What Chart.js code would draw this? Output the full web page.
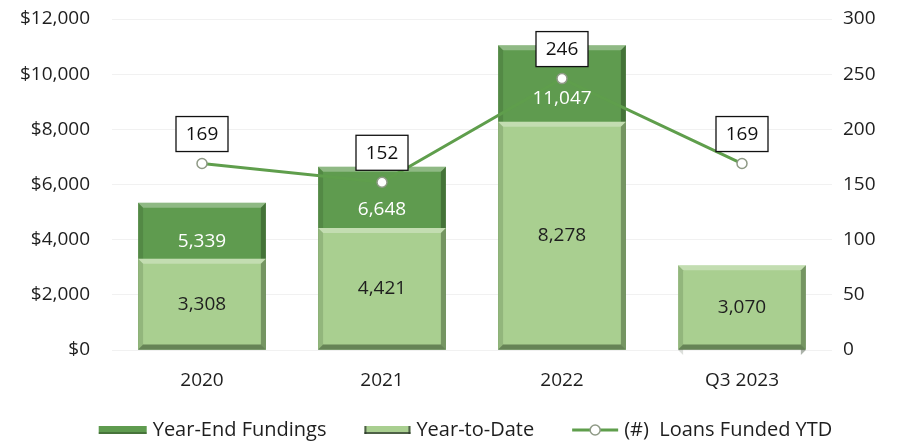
<!DOCTYPE html>
<html>
<head>
<meta charset="utf-8">
<script src="https://cdn.jsdelivr.net/npm/chart.js@4"></script>
<style>
  html, body { margin: 0; padding: 0; background: #fff; }
  #wrap { width: 901px; height: 443px; }
</style>
</head>
<body>
<div id="wrap"><canvas id="myChart"></canvas></div>
<script>
const periods = ['2020', '2021', '2022', 'Q3 2023'];
const yearEndFundings = [5339, 6648, 11047, null];
const yearToDate = [3308, 4421, 8278, 3070];
const loansFunded = [169, 152, 246, 169];
const seriesNames = ['Year-End Fundings', 'Year-to-Date', '(#)  Loans Funded YTD'];

const FONT = "'Open Sans', 'Noto Sans', sans-serif";
const FONT_SIZE = 19;
const TEXT = '#1e1e1e';
const DARK_GREEN = '#5f9b4f';
const LIGHT_GREEN = '#a9cf90';
const LINE_GREEN = '#5f9e4c';

const fmt = v => v.toLocaleString('en-US');

// legend swatches; each draws at (x, y centre) and returns its width
const swatches = [
    (g, x, y) => {
        g.fillStyle = DARK_GREEN;
        g.fillRect(x, y - 4, 48, 8);
        g.fillStyle = 'rgba(0,0,0,0.25)';
        g.fillRect(x, y + 2, 48, 2);
        return 48;
    },
    (g, x, y) => {
        g.fillStyle = LIGHT_GREEN;
        g.fillRect(x, y - 4, 46, 8);
        g.fillStyle = 'rgba(40,50,40,0.7)';
        g.fillRect(x, y + 2, 46, 2);
        g.fillRect(x + 44, y - 4, 2, 8);
        g.fillRect(x, y - 4, 2, 8);
        return 46;
    },
    (g, x, y) => {
        g.strokeStyle = LINE_GREEN;
        g.lineWidth = 3;
        g.beginPath();
        g.moveTo(x, y);
        g.lineTo(x + 46, y);
        g.stroke();
        g.fillStyle = '#fff';
        g.strokeStyle = '#8f9a86';
        g.lineWidth = 1.5;
        g.beginPath();
        g.arc(x + 23, y, 5, 0, Math.PI * 2);
        g.fill();
        g.stroke();
        return 46;
    }
];

const bottomLegend = {
    id: 'bottomLegend',
    afterDraw(chart) {
        const ctx = chart.ctx;
        const swatchW = [48, 46, 46];
        const gap = 6, spacing = 38;
        ctx.save();
        ctx.font = `20px ${FONT}`;
        ctx.textBaseline = 'middle';
        ctx.textAlign = 'left';
        const widths = seriesNames.map((t, i) => swatchW[i] + gap + ctx.measureText(t).width);
        const total = widths.reduce((a, b) => a + b, 0) + spacing * (widths.length - 1);
        const cy = chart.height - 13;
        let x = chart.width / 2 + 15 - total / 2;
        seriesNames.forEach((t, i) => {
            const w = swatches[i](ctx, x, cy);
            ctx.fillStyle = TEXT;
            ctx.fillText(t, x + w + gap, cy);
            x += widths[i] + spacing;
        });
        ctx.restore();
    }
};

// bevelled edges on each bar
const bevel = {
    id: 'bevel',
    afterDatasetDraw(chart, args) {
        if (args.meta.type !== 'bar') return;
        const ctx = chart.ctx;
        const d = 5;
        args.meta.data.forEach(bar => {
            if (bar.skip || isNaN(bar.y)) return;
            const L = bar.x - bar.width / 2, R = bar.x + bar.width / 2;
            const T = Math.min(bar.y, bar.base), B = Math.max(bar.y, bar.base);
            const poly = (pts, fill) => {
                ctx.beginPath();
                ctx.moveTo(pts[0][0], pts[0][1]);
                pts.slice(1).forEach(p => ctx.lineTo(p[0], p[1]));
                ctx.closePath();
                ctx.fillStyle = fill;
                ctx.fill();
            };
            ctx.save();
            poly([[L, T], [R, T], [R - d, T + d], [L + d, T + d]], 'rgba(255,255,255,0.3)');
            poly([[R, T], [R, B], [R - d, B - d], [R - d, T + d]], 'rgba(20,40,15,0.35)');
            poly([[L, B], [R, B], [R - d, B - d], [L + d, B - d]], 'rgba(20,40,15,0.45)');
            poly([[L, T], [L, B], [L + d, B - d], [L + d, T + d]], 'rgba(20,40,15,0.15)');
            ctx.restore();
        });
    }
};

// numbers inside bars and boxed loan counts above the line
const valueLabels = {
    id: 'valueLabels',
    afterDatasetsDraw(chart) {
        const ctx = chart.ctx;
        const y = chart.scales.y;
        ctx.save();
        ctx.font = `${FONT_SIZE}px ${FONT}`;
        ctx.textAlign = 'center';
        ctx.textBaseline = 'middle';

        chart.getDatasetMeta(0).data.forEach((bar, i) => {
            const v = yearEndFundings[i];
            if (v == null) return;
            const lo = yearToDate[i];
            ctx.fillStyle = '#fff';
            ctx.fillText(fmt(v), bar.x, y.getPixelForValue(lo + (v - lo) * 0.3));
        });
        chart.getDatasetMeta(1).data.forEach((bar, i) => {
            ctx.fillStyle = TEXT;
            ctx.fillText(fmt(yearToDate[i]), bar.x, y.getPixelForValue(yearToDate[i] / 2));
        });

        chart.getDatasetMeta(2).data.forEach((pt, i) => {
            const w = 52, h = 35;
            const bx = pt.x - w / 2, by = pt.y - 12 - h;
            ctx.fillStyle = '#fff';
            ctx.fillRect(bx, by, w, h);
            ctx.strokeStyle = '#111';
            ctx.lineWidth = 1.3;
            ctx.strokeRect(bx, by, w, h);
            ctx.fillStyle = '#111';
            ctx.fillText(String(loansFunded[i]), pt.x, by + h / 2 + 1);
        });
        ctx.restore();
    }
};

const tickFont = { family: FONT, size: FONT_SIZE };

const ctx = document.getElementById('myChart').getContext('2d');
new Chart(ctx, {
    type: 'bar',
    data: {
        labels: periods,
        datasets: [{
            label: seriesNames[0],
            data: yearEndFundings,
            backgroundColor: DARK_GREEN,
            grouped: false,
            barPercentage: 0.71,
            categoryPercentage: 1,
            order: 3,
            yAxisID: 'y'
        }, {
            label: seriesNames[1],
            data: yearToDate,
            backgroundColor: LIGHT_GREEN,
            grouped: false,
            barPercentage: 0.71,
            categoryPercentage: 1,
            order: 2,
            yAxisID: 'y'
        }, {
            type: 'line',
            label: seriesNames[2],
            data: loansFunded,
            borderColor: LINE_GREEN,
            borderWidth: 3,
            pointRadius: 5,
            pointBackgroundColor: '#fff',
            pointBorderColor: '#8f9a86',
            pointBorderWidth: 1.5,
            tension: 0,
            order: 1,
            yAxisID: 'y1'
        }]
    },
    options: {
        responsive: true,
        maintainAspectRatio: false,
        animation: false,
        layout: { padding: { top: 19, left: 0, right: 0, bottom: 48 } },
        plugins: {
            tooltip: { enabled: false },
            legend: { display: false }
        },
        scales: {
            x: {
                grid: { display: false, drawTicks: false },
                border: { display: false },
                ticks: { color: TEXT, padding: 19, font: tickFont },
                afterFit: scale => { scale.height = 45; }
            },
            y: {
                position: 'left',
                min: 0,
                max: 12000,
                ticks: {
                    stepSize: 2000,
                    padding: 22,
                    color: TEXT,
                    font: tickFont,
                    callback: v => '$' + fmt(v)
                },
                grid: { color: '#f1f1f1', drawTicks: false },
                border: { display: false },
                afterFit: scale => { scale.width = 112; scale.paddingTop = 0; scale.paddingBottom = 0; }
            },
            y1: {
                position: 'right',
                min: 0,
                max: 300,
                ticks: {
                    stepSize: 50,
                    padding: 11,
                    color: TEXT,
                    font: tickFont
                },
                grid: { display: false, drawTicks: false },
                border: { display: false },
                afterFit: scale => { scale.width = 69; scale.paddingTop = 0; scale.paddingBottom = 0; }
            }
        }
    },
    plugins: [bevel, valueLabels, bottomLegend]
});
</script>
</body>
</html>
